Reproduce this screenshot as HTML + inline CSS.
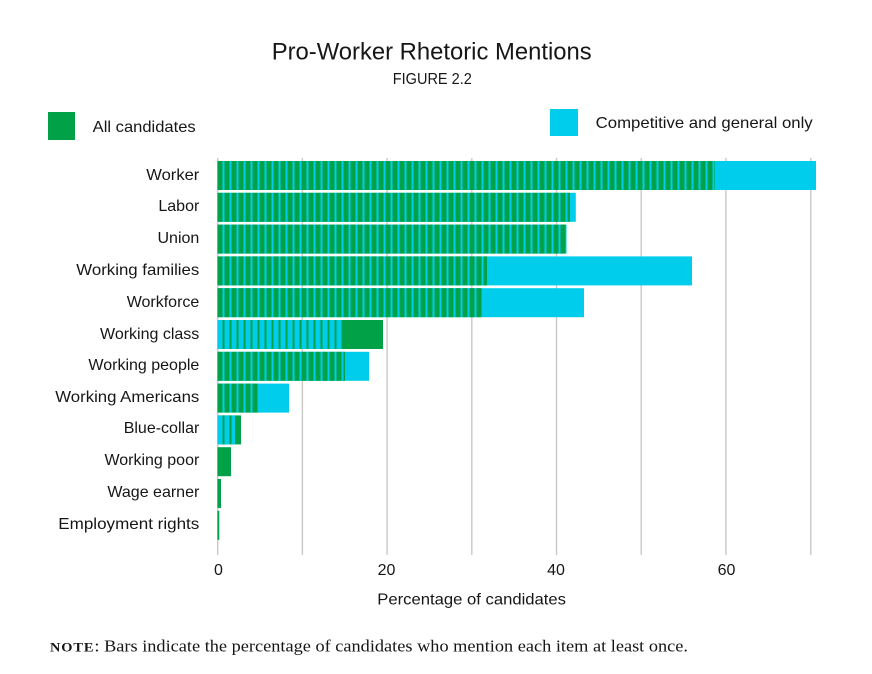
<!DOCTYPE html>
<html>
<head>
<meta charset="utf-8">
<style>
  html,body{margin:0;padding:0;background:#fff;}
  svg{display:block;}
  text{font-family:"Liberation Sans", Arial, sans-serif; fill:#161616;}
  .serif{font-family:"Liberation Serif", "Times New Roman", serif;}
</style>
</head>
<body>
<svg width="872" height="674" viewBox="0 0 872 674" xmlns="http://www.w3.org/2000/svg">
  <defs>
    <pattern id="gs" patternUnits="userSpaceOnUse" x="217.5" y="0" width="7" height="20">
      <rect x="0" y="0" width="7" height="20" fill="#00a147"/>
      <rect x="5" y="0" width="2" height="20" fill="#00cdec"/>
    </pattern>
    <pattern id="cs" patternUnits="userSpaceOnUse" x="217.5" y="0" width="7" height="20">
      <rect x="0" y="0" width="7" height="20" fill="#00cdec"/>
      <rect x="5" y="0" width="2" height="20" fill="#00a147"/>
    </pattern>
  </defs>

  <!-- Title -->
  <text x="431.7" y="59.3" font-size="24" text-anchor="middle" textLength="320" lengthAdjust="spacingAndGlyphs">Pro-Worker Rhetoric Mentions</text>
  <text x="432.3" y="84" font-size="15.5" text-anchor="middle" textLength="79" lengthAdjust="spacingAndGlyphs">FIGURE 2.2</text>

  <!-- Legend -->
  <rect x="48" y="112" width="27" height="28" fill="#00a147"/>
  <text x="92.7" y="132" font-size="16" textLength="103" lengthAdjust="spacingAndGlyphs">All candidates</text>
  <rect x="550" y="109" width="28" height="27" fill="#00cdec"/>
  <text x="595.7" y="128" font-size="16" textLength="217" lengthAdjust="spacingAndGlyphs">Competitive and general only</text>

  <!-- Gridlines -->
  <g stroke="#c9c9c9" stroke-width="1.4">
    <line x1="217.7" y1="158" x2="217.7" y2="555"/>
    <line x1="302.4" y1="158" x2="302.4" y2="555"/>
    <line x1="387.1" y1="158" x2="387.1" y2="555"/>
    <line x1="471.8" y1="158" x2="471.8" y2="555"/>
    <line x1="556.5" y1="158" x2="556.5" y2="555"/>
    <line x1="641.2" y1="158" x2="641.2" y2="555"/>
    <line x1="725.9" y1="158" x2="725.9" y2="555"/>
    <line x1="810.8" y1="158" x2="810.8" y2="555"/>
  </g>

  <!-- Bars -->
  <rect x="217.5" y="161" width="598.5" height="29" fill="#00cdec"/>
  <rect x="217.5" y="161" width="497.5" height="29" fill="url(#gs)"/>
  <rect x="217.5" y="192.8" width="358.3" height="29" fill="#00cdec"/>
  <rect x="217.5" y="192.8" width="352.5" height="29" fill="url(#gs)"/>
  <rect x="217.5" y="224.6" width="349" height="29" fill="#00cdec"/>
  <rect x="217.5" y="224.6" width="348.2" height="29" fill="url(#gs)"/>
  <rect x="217.5" y="256.4" width="474.5" height="29" fill="#00cdec"/>
  <rect x="217.5" y="256.4" width="269.5" height="29" fill="url(#gs)"/>
  <rect x="217.5" y="288.2" width="366.5" height="29" fill="#00cdec"/>
  <rect x="217.5" y="288.2" width="264.5" height="29" fill="url(#gs)"/>
  <rect x="217.5" y="320" width="165.5" height="29" fill="#00a147"/>
  <rect x="217.5" y="320" width="125.2" height="29" fill="url(#cs)"/>
  <rect x="217.5" y="351.8" width="151.5" height="29" fill="#00cdec"/>
  <rect x="217.5" y="351.8" width="127.5" height="29" fill="url(#gs)"/>
  <rect x="217.5" y="383.6" width="71.5" height="29" fill="#00cdec"/>
  <rect x="217.5" y="383.6" width="41.5" height="29" fill="url(#gs)"/>
  <rect x="217.5" y="415.4" width="23.5" height="29" fill="#00a147"/>
  <rect x="217.5" y="415.4" width="17.5" height="29" fill="url(#cs)"/>
  <rect x="217.5" y="447.2" width="13.5" height="29" fill="#00a147"/>
  <rect x="217.5" y="479" width="3.5" height="29" fill="#00a147"/>
  <rect x="217.5" y="510.8" width="1.8" height="29" fill="#00a147"/>

  <!-- Category labels -->
  <g font-size="16" text-anchor="end">
    <text x="199.3" y="180" textLength="53" lengthAdjust="spacingAndGlyphs">Worker</text>
    <text x="199.3" y="211">Labor</text>
    <text x="199.3" y="243">Union</text>
    <text x="199.3" y="275" textLength="123" lengthAdjust="spacingAndGlyphs">Working families</text>
    <text x="199.3" y="307">Workforce</text>
    <text x="199.3" y="339">Working class</text>
    <text x="199.3" y="370">Working people</text>
    <text x="199.3" y="402" textLength="144" lengthAdjust="spacingAndGlyphs">Working Americans</text>
    <text x="199.3" y="433">Blue-collar</text>
    <text x="199.3" y="465">Working poor</text>
    <text x="199.3" y="497">Wage earner</text>
    <text x="199.3" y="529" textLength="141" lengthAdjust="spacingAndGlyphs">Employment rights</text>
  </g>

  <!-- Tick labels -->
  <g font-size="16" text-anchor="middle">
    <text x="218.5" y="575">0</text>
    <text x="386.5" y="575">20</text>
    <text x="556" y="575">40</text>
    <text x="726.5" y="575">60</text>
  </g>
  <text x="377.3" y="604.3" font-size="16" textLength="188.7" lengthAdjust="spacingAndGlyphs">Percentage of candidates</text>

  <!-- Note -->
  <text class="serif" x="50" y="651.7" font-size="16.5" textLength="638" lengthAdjust="spacingAndGlyphs"><tspan font-size="13" font-weight="bold" letter-spacing="0.8">NOTE</tspan>: Bars indicate the percentage of candidates who mention each item at least once.</text>
</svg>
</body>
</html>
